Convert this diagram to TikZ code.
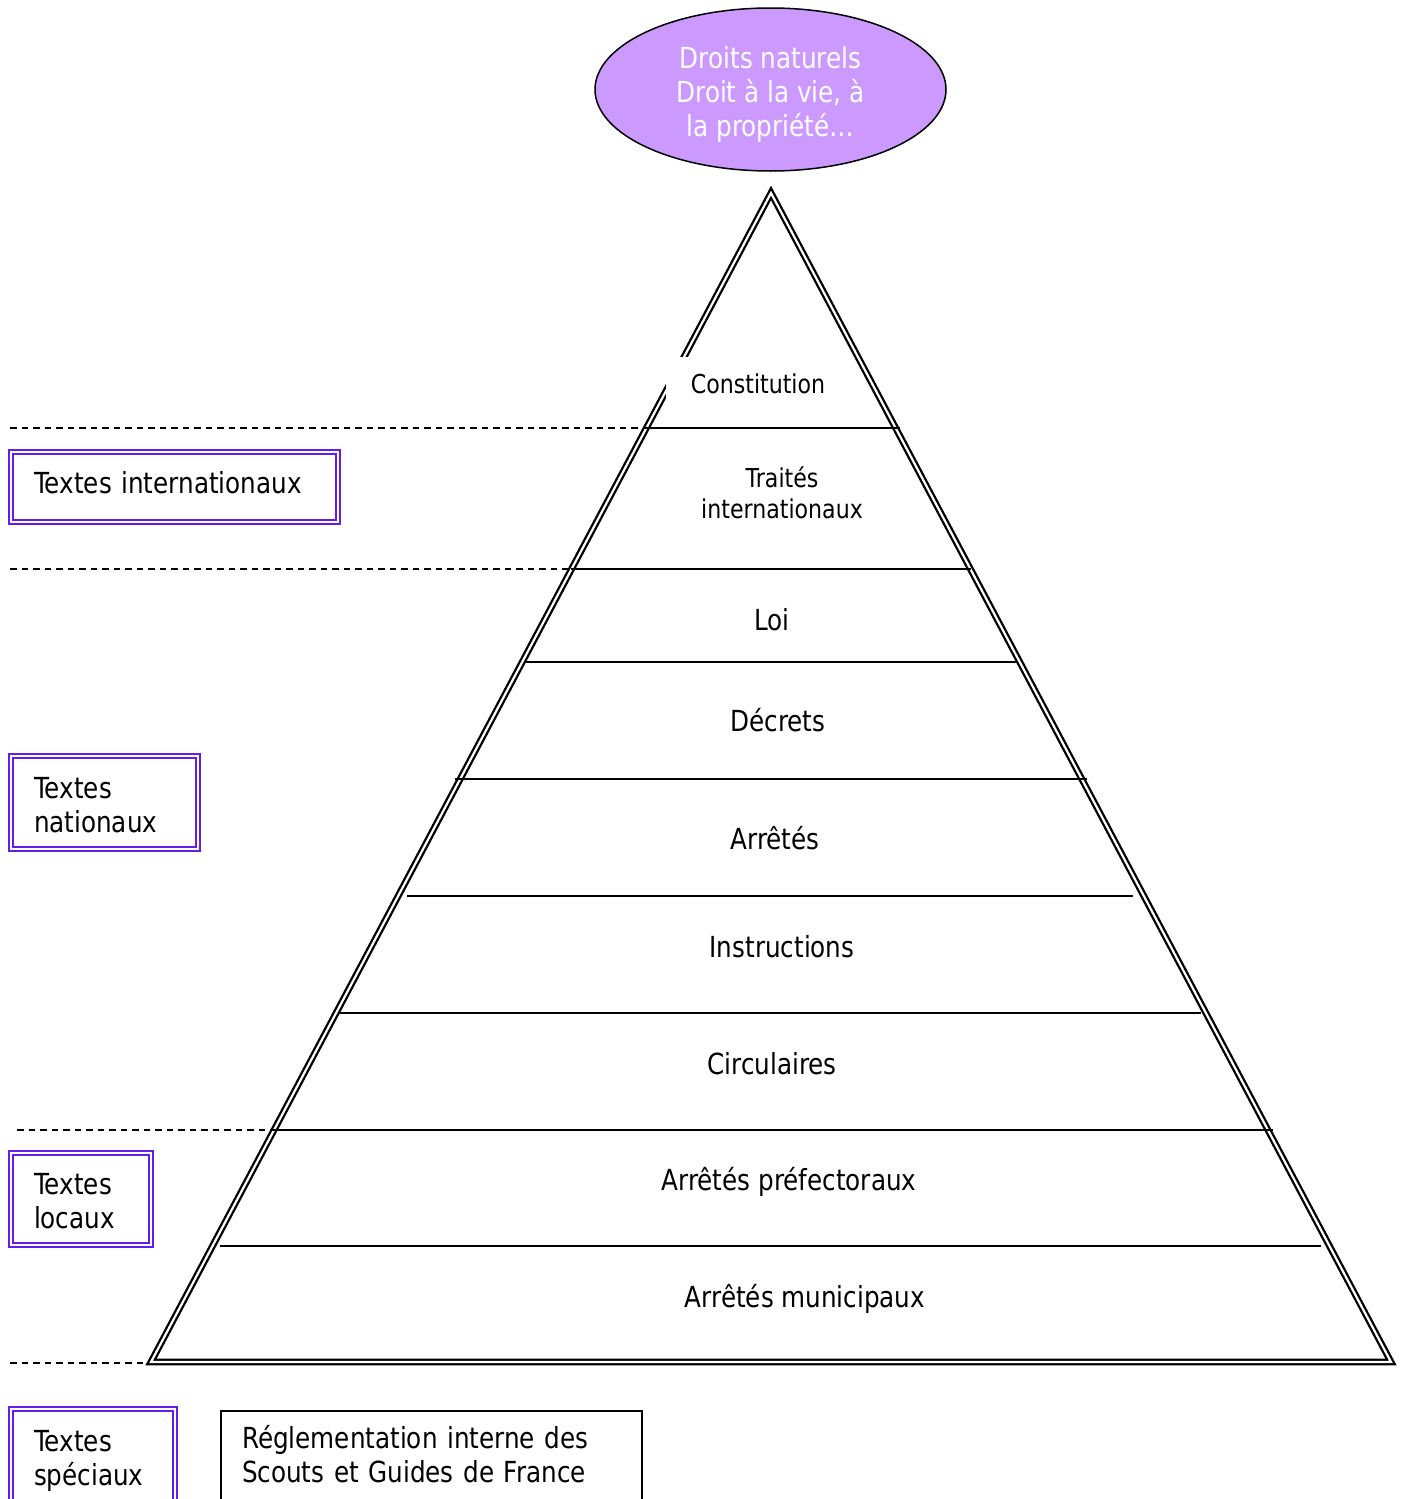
\documentclass[tikz,border=0pt]{standalone}
\usepackage{fontspec}
\setmainfont{DejaVu Sans}[FakeStretch=0.85]
\usetikzlibrary{shapes.geometric}
\definecolor{lilac}{RGB}{204,153,255}
\definecolor{violetb}{RGB}{98,28,240}
\newcommand\shiftl[2]{\raisebox{-#1}[\height][\depth]{\begin{tabular}{@{}l@{}}#2\end{tabular}}}
\newcommand\shiftc[2]{\raisebox{-#1}[\height][\depth]{\begin{tabular}{@{}c@{}}#2\end{tabular}}}
\begin{document}
\begin{tikzpicture}[x=1pt,y=-1pt,
  big/.style={font=\fontsize{29}{34}\selectfont},
  small/.style={font=\fontsize{26}{31}\selectfont},
  lbl/.style={align=center, inner sep=0pt},
  tier/.style={line width=1.9pt},
  sepline/.style={dash pattern=on 6.5pt off 5pt, line width=1.7pt},
  catbox/.style={draw=violetb, double, line width=2.2pt, double distance=2pt, align=left, inner sep=0pt, big},
  plainbox/.style={draw=black, line width=2pt, align=left, inner sep=0pt, big}
]
\useasboundingbox (0,0) rectangle (1404,1499);

% top ellipse
\node[ellipse, draw=black, line width=1.5pt, fill=lilac, minimum width=351pt, minimum height=163pt,
      inner sep=0pt, align=center, text=white, big] (nat) at (770.5,89.5)
      {\shiftc{6pt}{Droits naturels\\Droit à la vie, à\\la propriété…}};

% pyramid
\coordinate (apex) at (771,193);
\coordinate (bl) at (151,1362);
\coordinate (br) at (1391,1362);
\draw[double, line width=2.3pt, double distance=2.2pt, line join=miter] (apex) -- (bl) -- (br) -- cycle;

% tiers
\draw[tier] (646,428) -- (900,428);
\draw[tier] (571,569) -- (971,569);
\draw[tier] (524,662) -- (1016,662);
\draw[tier] (455,779) -- (1087,779);
\draw[tier] (407,896) -- (1133,896);
\draw[tier] (340,1013) -- (1201,1013);
\draw[tier] (272,1130) -- (1273,1130);
\draw[tier] (220,1246) -- (1321,1246);

% dashed separators
\draw[sepline] (10,428) -- (646,428);
\draw[sepline] (10,569) -- (571,569);
\draw[sepline] (17,1130) -- (272,1130);
\draw[sepline] (10,1363) -- (148,1363);

% pyramid labels
\node[lbl, small, fill=white, minimum width=184pt, minimum height=54pt] (const) at (758,384) {Constitution};
\node[lbl, small] (traites) at (782,493) {Traités\\internationaux};
\node[lbl, big] (loi) at (772,620) {Loi};
\node[lbl, big] (decrets) at (778,720) {Décrets};
\node[lbl, big] (arretes) at (775,838) {Arrêtés};
\node[lbl, big] (instr) at (782,947) {Instructions};
\node[lbl, big] (circ) at (772,1064) {Circulaires};
\node[lbl, big] (pref) at (789,1182) {Arrêtés préfectoraux};
\node[lbl, big] (muni) at (805,1299) {Arrêtés municipaux};

% category boxes
\node[catbox, minimum width=327pt, minimum height=70pt, text width=281pt] (intl) at (174.5,487) {\shiftl{0pt}{Textes internationaux}};
\node[catbox, minimum width=187pt, minimum height=93pt, text width=141pt] (natl) at (104.5,802.5) {\shiftl{6pt}{Textes\\nationaux}};
\node[catbox, minimum width=140pt, minimum height=92pt, text width=94pt] (loc) at (81,1199) {\shiftl{6pt}{Textes\\locaux}};
\node[catbox, minimum width=164pt, minimum height=98pt, text width=118pt] (spec) at (93,1458) {\shiftl{4pt}{Textes\\spéciaux}};
\node[plainbox, minimum width=421pt, minimum height=90pt, text width=379pt] (sgdf) at (431.5,1456) {\shiftl{3pt}{Réglementation interne des\\Scouts et Guides de France}};
\end{tikzpicture}
\end{document}
